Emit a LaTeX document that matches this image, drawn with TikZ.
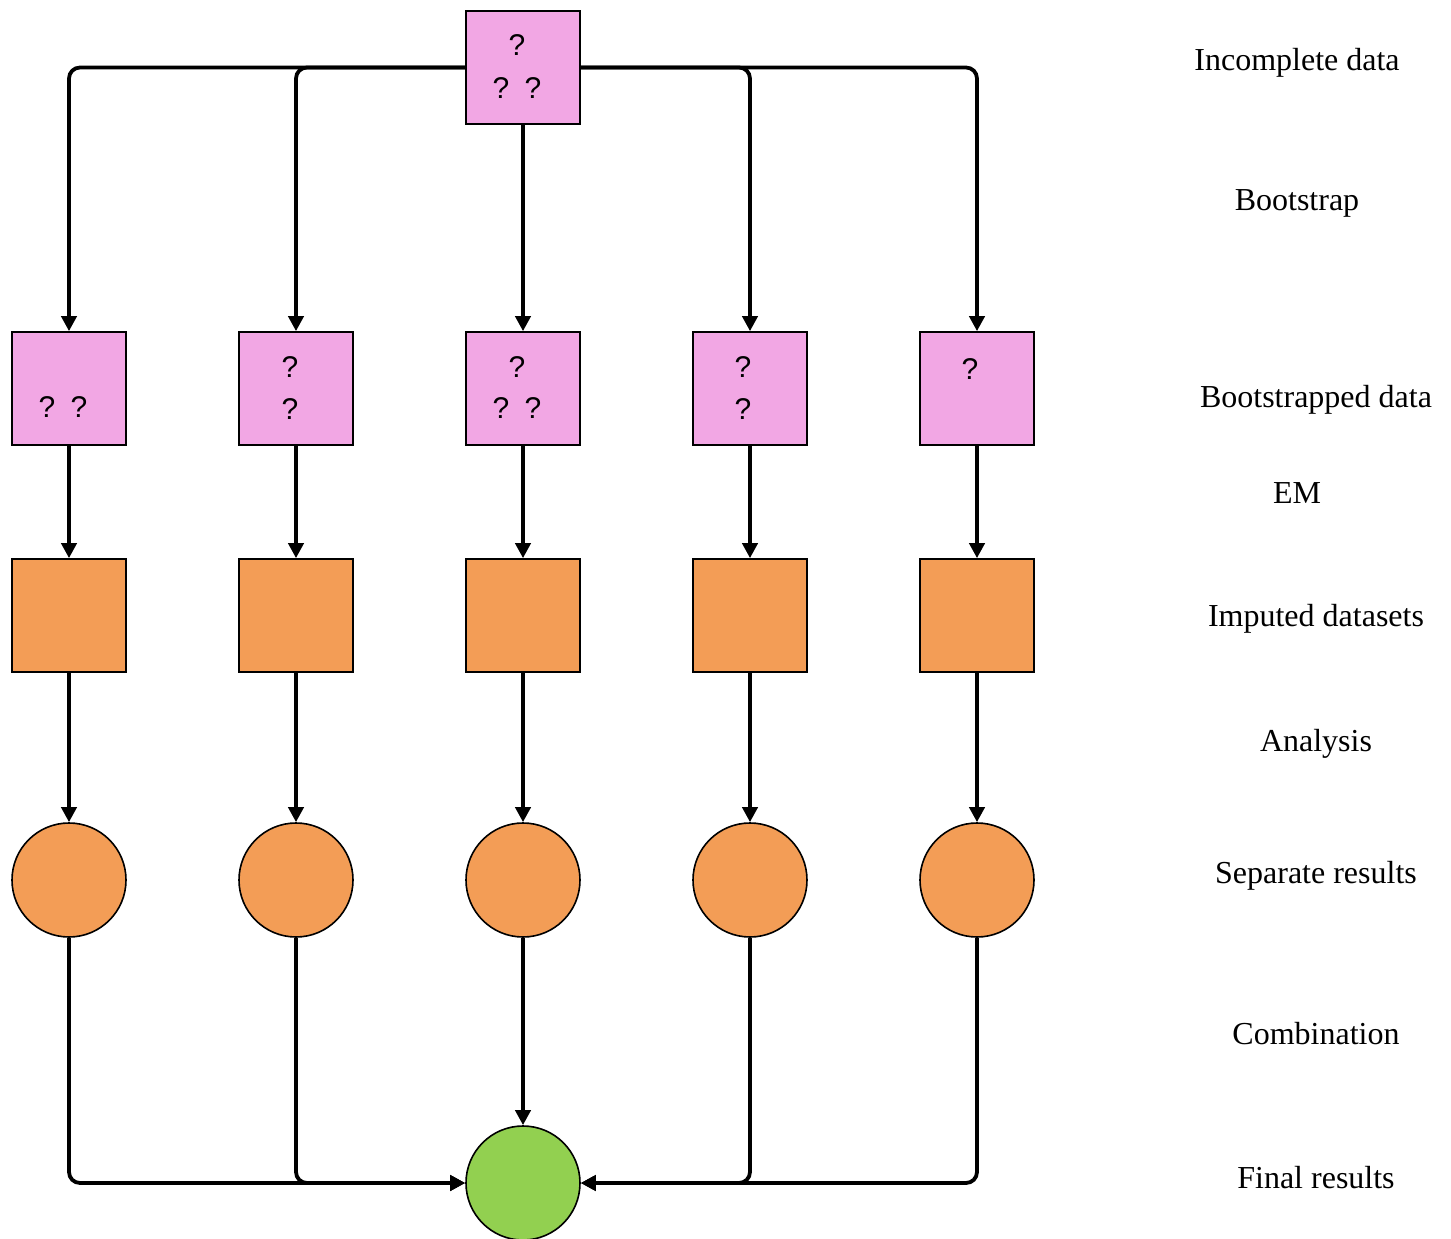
\documentclass[tikz,border=0pt]{standalone}
\usepackage{fontspec}
\setmainfont{Liberation Serif}
\newfontfamily\qfont{Liberation Sans}
\usetikzlibrary{arrows.meta}
\definecolor{pinkc}{RGB}{242,167,228}
\definecolor{orangec}{RGB}{243,157,86}
\definecolor{greenc}{RGB}{146,208,80}
\tikzset{
  databox/.style={draw=black, line width=1.6pt, fill=pinkc, minimum width=114pt, minimum height=113pt, inner sep=0pt},
  impbox/.style={draw=black, line width=1.6pt, fill=orangec, minimum width=114pt, minimum height=113pt, inner sep=0pt},
  rescirc/.style={draw=black, line width=1.6pt, fill=orangec, circle, minimum size=114pt, inner sep=0pt},
  fincirc/.style={draw=black, line width=1.6pt, fill=greenc, circle, minimum size=114pt, inner sep=0pt},
  qm/.style={font=\qfont\fontsize{30}{34}\selectfont, inner sep=0pt},
  lbl/.style={font=\fontsize{32}{38}\selectfont, inner sep=0pt},
  conn/.style={line width=3.8pt, rounded corners=11pt},
  arr/.style={conn, -{Triangle[length=15pt,width=15pt]}},
}
\begin{document}
\begin{tikzpicture}[x=1pt,y=-1pt]
\useasboundingbox (0,0) rectangle (1451,1239);
% top
\node[databox] (top) at (523,67.5) {};
\node[qm] (t1) at (517,45) {?};
\node[qm] (t2) at (501,88) {?};
\node[qm] (t3) at (533,88) {?};
% bootstrapped
\node[databox] (b1) at (69,388.5) {};
\node[databox] (b2) at (296,388.5) {};
\node[databox] (b3) at (523,388.5) {};
\node[databox] (b4) at (750,388.5) {};
\node[databox] (b5) at (977,388.5) {};
\node[qm] (q11) at (47,407) {?};
\node[qm] (q12) at (79,407) {?};
\node[qm] (q21) at (290,367) {?};
\node[qm] (q22) at (290,409) {?};
\node[qm] (q31) at (517,367) {?};
\node[qm] (q32) at (501,408) {?};
\node[qm] (q33) at (533,408) {?};
\node[qm] (q41) at (743,367) {?};
\node[qm] (q42) at (743,409) {?};
\node[qm] (q51) at (970,369) {?};
% imputed
\node[impbox] (i1) at (69,615.5) {};
\node[impbox] (i2) at (296,615.5) {};
\node[impbox] (i3) at (523,615.5) {};
\node[impbox] (i4) at (750,615.5) {};
\node[impbox] (i5) at (977,615.5) {};
% results
\node[rescirc] (r1) at (69,880) {};
\node[rescirc] (r2) at (296,880) {};
\node[rescirc] (r3) at (523,880) {};
\node[rescirc] (r4) at (750,880) {};
\node[rescirc] (r5) at (977,880) {};
% final
\node[fincirc] (fin) at (523,1183) {};
% connectors top
\draw[arr] (top.west) -| (b1.north);
\draw[arr] (top.west) -| (b2.north);
\draw[arr] (top.south) -- (b3.north);
\draw[arr] (top.east) -| (b4.north);
\draw[arr] (top.east) -| (b5.north);
\foreach \k in {1,...,5}{
  \draw[arr] (b\k.south) -- (i\k.north);
  \draw[arr] (i\k.south) -- (r\k.north);
}
\draw[arr] (r1.south) |- (fin.west);
\draw[arr] (r2.south) |- (fin.west);
\draw[arr] (r3.south) -- (fin.north);
\draw[arr] (r4.south) |- (fin.east);
\draw[arr] (r5.south) |- (fin.east);
% labels
\node[lbl] (l1) at (1297,63) {Incomplete data};
\node[lbl] (l2) at (1297,203) {Bootstrap};
\node[lbl] (l3) at (1316,400) {Bootstrapped data};
\node[lbl] (l4) at (1297,493) {EM};
\node[lbl] (l5) at (1316,619) {Imputed datasets};
\node[lbl] (l6) at (1316,744) {Analysis};
\node[lbl] (l7) at (1316,876) {Separate results};
\node[lbl] (l8) at (1316,1034) {Combination};
\node[lbl] (l9) at (1316,1178) {Final results};
\end{tikzpicture}
\end{document}
